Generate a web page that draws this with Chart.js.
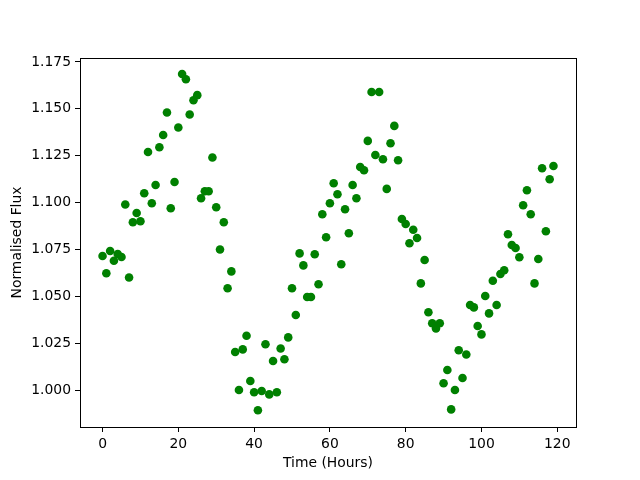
<!DOCTYPE html>
<html>
<head>
<meta charset="utf-8">
<script src="https://cdn.jsdelivr.net/npm/chart.js@4"></script>
<style>
    html, body { margin: 0; padding: 0; background: #fff; }
    #wrap { width: 640px; height: 480px; }
</style>
</head>
<body>
<div id="wrap"><canvas id="flux-chart" width="640" height="480"></canvas></div>
<script>
// Data

const hours = [
    0, 1, 2, 3, 4, 5, 6, 7, 8, 9, 10, 11, 12, 13, 14, 15, 16, 17, 18, 19,
    20, 21, 22, 23, 24, 25, 26, 27, 28, 29, 30, 31, 32, 33, 34, 35, 36, 37, 38, 39,
    40, 41, 42, 43, 44, 45, 46, 47, 48, 49, 50, 51, 52, 53, 54, 55, 56, 57, 58, 59,
    60, 61, 62, 63, 64, 65, 66, 67, 68, 69, 70, 71, 72, 73, 74, 75, 76, 77, 78, 79,
    80, 81, 82, 83, 84, 85, 86, 87, 88, 89, 90, 91, 92, 93, 94, 95, 96, 97, 98, 99,
    100, 101, 102, 103, 104, 105, 106, 107, 108, 109, 110, 111, 112, 113, 114, 115, 116, 117, 118, 119
];

const flux = [
    1.0715, 1.0623, 1.0742, 1.0690, 1.0726, 1.0710, 1.0990, 1.0600, 1.0895, 1.0944,
    1.0900, 1.1050, 1.1270, 1.0996, 1.1094, 1.1295, 1.1360, 1.1480, 1.0970, 1.1110,
    1.1400, 1.1686, 1.1658, 1.1470, 1.1546, 1.1573, 1.1023, 1.1060, 1.1060, 1.1240,
    1.0975, 1.0750, 1.0895, 1.0543, 1.0633, 1.0203, 1.0000, 1.0217, 1.0290, 1.0048,
    0.9988, 0.9892, 0.9995, 1.0244, 0.9977, 1.0155, 0.9988, 1.0222, 1.0164, 1.0281,
    1.0543, 1.0400, 1.0729, 1.0665, 1.0496, 1.0496, 1.0724, 1.0564, 1.0938, 1.0815,
    1.0996, 1.1103, 1.1044, 1.0671, 1.0964, 1.0836, 1.1094, 1.1023, 1.1190, 1.1172,
    1.1329, 1.1590, 1.1254, 1.1590, 1.1231, 1.1073, 1.1316, 1.1409, 1.1226, 1.0912,
    1.0886, 1.0783, 1.0855, 1.0811, 1.0569, 1.0694, 1.0415, 1.0356, 1.0329, 1.0356,
    1.0036, 1.0107, 0.9897, 1.0000, 1.0212, 1.0064, 1.0190, 1.0454, 1.0441, 1.0342,
    1.0297, 1.0502, 1.0409, 1.0583, 1.0454, 1.0619, 1.0639, 1.0831, 1.0774, 1.0758,
    1.0708, 1.0986, 1.1066, 1.0938, 1.0569, 1.0699, 1.1183, 1.0847, 1.1124, 1.1195
];

const xTicks = [0, 20, 40, 60, 80, 100, 120];
const yTicks = [1.000, 1.025, 1.050, 1.075, 1.100, 1.125, 1.150, 1.175];

const FONT = { family: "'DejaVu Sans', sans-serif", size: 13.9 };

Chart.defaults.color = '#000';
Chart.defaults.font.family = FONT.family;
Chart.defaults.font.size = FONT.size;

// matplotlib-style box around the plot area
const frame = {
    id: 'frame',
    afterDatasetsDraw(chart) {
        const { ctx, chartArea: a } = chart;
        ctx.save();
        ctx.strokeStyle = '#000';
        ctx.lineWidth = 1;
        ctx.strokeRect(a.left + 0.5, a.top + 0.5, a.right - a.left, a.bottom - a.top);
        ctx.restore();
    }
};

const points = hours.map((h, i) => ({ x: h, y: flux[i] }));

new Chart(document.getElementById('flux-chart'), {
    type: 'scatter',
    data: {
        datasets: [{
            data: points,
            backgroundColor: 'green',
            borderColor: 'green',
            borderWidth: 0,
            pointRadius: 4.3,
            pointHoverRadius: 4.3
        }]
    },
    options: {
        responsive: false,
        animation: false,
        layout: { padding: { top: 58, right: 64, left: 0, bottom: 0 } },
        plugins: {
            legend: { display: false },
            tooltip: { enabled: false }
        },
        scales: {
            x: {
                type: 'linear',
                min: -5.95,
                max: 124.95,
                afterBuildTicks: (scale) => { scale.ticks = xTicks.map(v => ({ value: v })); },
                afterFit: (scale) => { scale.height = 53; },
                grid: { drawOnChartArea: false, tickLength: 5, tickColor: '#000', tickWidth: 1 },
                border: { display: true, color: '#000', width: 1 },
                ticks: { padding: 4, maxRotation: 0, autoSkip: false, color: '#000', font: FONT },
                title: { display: true, text: 'Time (Hours)', color: '#000', font: FONT, padding: { top: 0, bottom: 8 } }
            },
            y: {
                type: 'linear',
                min: 0.9803,
                max: 1.1771,
                afterBuildTicks: (scale) => { scale.ticks = yTicks.map(v => ({ value: v })); },
                afterFit: (scale) => { scale.width = 80; },
                grid: { drawOnChartArea: false, tickLength: 5, tickColor: '#000', tickWidth: 1 },
                border: { display: true, color: '#000', width: 1 },
                ticks: {
                    padding: 4,
                    autoSkip: false,
                    color: '#000',
                    font: FONT,
                    callback: (v) => Number(v).toFixed(3)
                },
                title: { display: true, text: 'Normalised Flux', color: '#000', font: FONT, padding: { top: 9, bottom: 0 } }
            }
        }
    },
    plugins: [frame]
});
</script>
</body>
</html>
